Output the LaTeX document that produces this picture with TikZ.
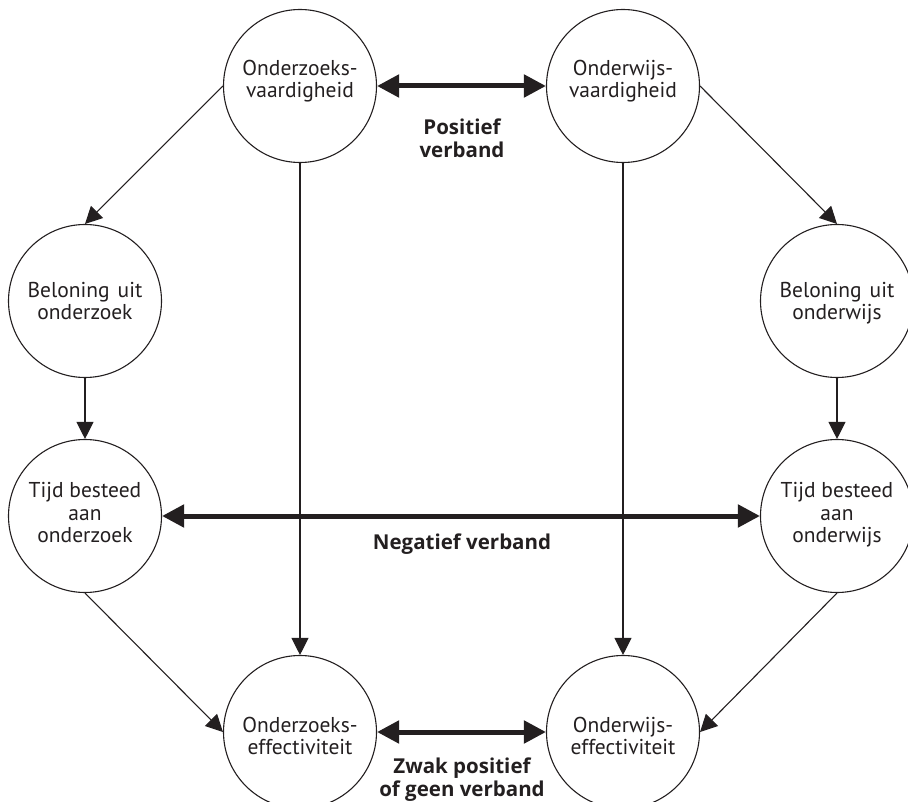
\documentclass[tikz,border=0pt]{standalone}
\usepackage{fontspec}
\setmainfont{PT Sans}
\newfontfamily\boldlabelfont{Open Sans}
\usetikzlibrary{arrows.meta}
\definecolor{ink}{HTML}{231F20}
\begin{document}
\begin{tikzpicture}[x=1pt,y=-1pt,
  circ/.style={circle, draw=ink, line width=1.1pt, minimum size=153pt, inner sep=0pt},
  lbl/.style={align=center, inner sep=0pt, font=\fontsize{21.5}{22.5}\selectfont, text=ink},
  blbl/.style={align=center, inner sep=0pt, font=\boldlabelfont\bfseries\fontsize{20.5}{23}\selectfont, text=ink},
  onearrow/.style={draw=ink, line width=1.1pt, -{Triangle[length=17pt,width=17pt]}},
  biarrow/.style={draw=ink, line width=5pt, {Triangle[length=22pt,width=22pt]}-{Triangle[length=22pt,width=22pt]}},
]
\useasboundingbox (0,0) rectangle (908,802);
% circles
\node[circ] (vo) at (300,86) {};
\node[circ] (vw) at (623,86) {};
\node[circ] (bo) at (85,301) {};
\node[circ] (bw) at (837,301) {};
\node[circ] (to) at (85,516) {};
\node[circ] (tw) at (837,516) {};
\node[circ] (eo) at (300,732) {};
\node[circ] (ew) at (623,732) {};
% texts
\node[lbl] (tvo) at (300,81) {Onderzoeks-\\vaardigheid};
\node[lbl] (tvw) at (623,81) {Onderwijs-\\vaardigheid};
\node[lbl] (tbo) at (85,301) {Beloning\hspace{8pt}uit\\onderzoek};
\node[lbl] (tbw) at (837,303) {Beloning\hspace{8pt}uit\\onderwijs};
\node[lbl] (tto) at (85,513) {Tijd besteed\\aan\\onderzoek};
\node[lbl] (ttw) at (837,515) {Tijd besteed\\aan\\onderwijs};
\node[lbl] (teo) at (300,736) {Onderzoeks-\\effectiviteit};
\node[lbl] (tew) at (623,736) {Onderwijs-\\effectiviteit};
\node[blbl] (pv) at (462,138) {Positief\\verband};
\node[blbl] (nv) at (462,544) {Negatief verband};
\node[blbl] (zv) at (462,780) {Zwak positief\\of geen verband};
% connectors
\draw[onearrow] (vo.west) -- (bo.north);
\draw[onearrow] (vw.east) -- (bw.north);
\draw[onearrow] (bo) -- (to);
\draw[onearrow] (bw) -- (tw);
\draw[onearrow] (to.south) -- (eo.west);
\draw[onearrow] (tw.south) -- (ew.east);
\draw[onearrow] (vo) -- (eo);
\draw[onearrow] (vw) -- (ew);
\draw[biarrow] (vo.east) -- (vw.west);
\draw[biarrow] (to.east) -- (tw.west);
\draw[biarrow] (eo.east) -- (ew.west);
\end{tikzpicture}
\end{document}
